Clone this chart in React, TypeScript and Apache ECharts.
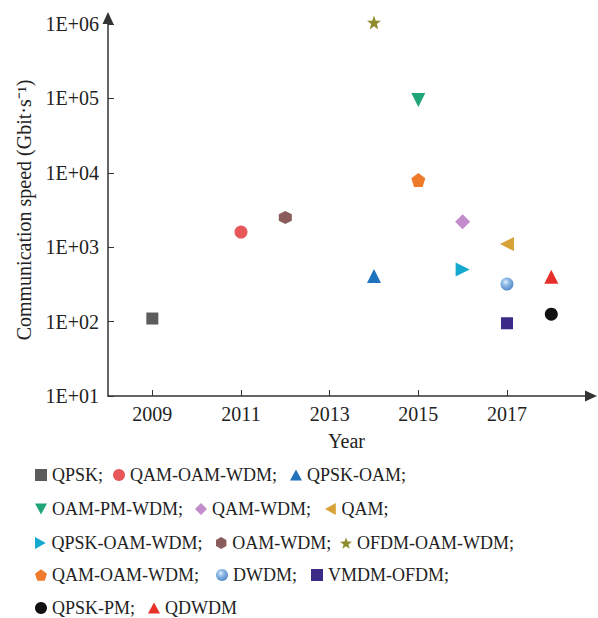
import React, { useEffect, useRef } from "react";
import * as echarts from "echarts";

const names = [
  "QPSK",
  "QAM-OAM-WDM",
  "QPSK-OAM",
  "OAM-PM-WDM",
  "QAM-WDM",
  "QAM",
  "QPSK-OAM-WDM",
  "OAM-WDM",
  "OFDM-OAM-WDM",
  "QAM-OAM-WDM ",
  "DWDM",
  "VMDM-OFDM",
  "QPSK-PM",
  "QDWDM",
];
const years = [2009, 2011, 2014, 2015, 2016, 2017, 2016, 2012, 2014, 2015, 2017, 2017, 2018, 2018];
const speeds = [110, 1600, 410, 95000, 2200, 1100, 500, 2500, 1050000, 8000, 320, 95, 126, 400];
const xTicks = [2009, 2011, 2013, 2015, 2017];
const yLabels = ["1E+01", "1E+02", "1E+03", "1E+04", "1E+05", "1E+06"];

const HEX = "path://M0,-10L8.66,-5L8.66,5L0,10L-8.66,5L-8.66,-5Z";
const STAR =
  "path://M0,-10L2.35,-3.24L9.51,-3.09L3.8,1.24L5.88,8.09L0,4L-5.88,8.09L-3.8,1.24L-9.51,-3.09L-2.35,-3.24Z";
const PENT = "path://M0,-10L9.51,-3.09L5.88,8.09L-5.88,8.09L-9.51,-3.09Z";
const TRI_UP = "path://M0,-10L10,8L-10,8Z";
const TRI_DOWN = "path://M-10,-8L10,-8L0,10Z";
const TRI_LEFT = "path://M-10,0L8,-10L8,10Z";
const TRI_RIGHT = "path://M10,0L-8,-10L-8,10Z";

const sphere = {
  type: "radial",
  x: 0.4,
  y: 0.35,
  r: 0.7,
  colorStops: [
    { offset: 0, color: "#e8f2fc" },
    { offset: 0.35, color: "#8fbbe6" },
    { offset: 1, color: "#4f86c6" },
  ],
};

const styles: any[] = [
  { symbol: "rect", size: 12, color: "#5c5c5c" },
  { symbol: "circle", size: 13, color: "#e8585a" },
  { symbol: TRI_UP, size: 14, color: "#1f72bd" },
  { symbol: TRI_DOWN, size: 14, color: "#1fa576" },
  { symbol: "diamond", size: 15, color: "#c38ccc" },
  { symbol: TRI_LEFT, size: 14, color: "#d7a236" },
  { symbol: TRI_RIGHT, size: 14, color: "#14a9cf" },
  { symbol: HEX, size: 13, color: "#8a5c5c" },
  { symbol: STAR, size: 14, color: "#8d8b2c" },
  { symbol: PENT, size: 14, color: "#ef7a2a" },
  { symbol: "circle", size: 13, color: sphere },
  { symbol: "rect", size: 12, color: "#3b2a86" },
  { symbol: "circle", size: 13, color: "#111111" },
  { symbol: TRI_UP, size: 14, color: "#e8302a" },
];

// legend item placement: [left, top]
const legendPos = [
  [35, 466], [113, 466], [290, 466],
  [35, 500], [195, 500], [325, 500],
  [35, 534], [216, 534], [340, 534],
  [35, 566], [216, 566], [311, 566],
  [35, 599], [148, 599],
];

const FONT = "'Liberation Serif', 'Times New Roman', serif";

export default function App() {
  const ref = useRef<HTMLDivElement>(null);
  useEffect(() => {
    if (!ref.current) return;
    const chart = echarts.init(ref.current, undefined, { renderer: "svg" });
    const series = names.map((n, i) => ({
      name: n,
      type: "scatter",
      clip: false,
      symbol: styles[i].symbol,
      symbolSize: styles[i].size,
      itemStyle: { color: styles[i].color, opacity: 1 },
      data: [[years[i], speeds[i]]],
    }));
    const legends = names.map((n, i) => ({
      data: [{ name: n, icon: styles[i].symbol }],
      left: legendPos[i][0],
      top: legendPos[i][1],
      padding: 0,
      itemWidth: 12,
      itemHeight: 12,
      itemGap: 0,
      selectedMode: false,
      formatter: () => n.trim() + (i === names.length - 1 ? "" : ";"),
      textStyle: { fontFamily: FONT, fontSize: 18, color: "#222", padding: [0, 0, 0, 0] },
    }));
    chart.setOption({
      animation: false,
      backgroundColor: "#ffffff",
      textStyle: { fontFamily: FONT },
      grid: { left: 108, right: 13, top: 24, bottom: 222, containLabel: false },
      legend: legends,
      xAxis: {
        type: "value",
        min: 2008,
        max: 2018.76,
        name: "Year",
        nameLocation: "middle",
        nameGap: 35,
        nameTextStyle: { fontFamily: FONT, fontSize: 20, color: "#222" },
        splitLine: { show: false },
        axisLine: {
          lineStyle: { color: "#333", width: 1.5 },
          symbol: ["none", "triangle"],
          symbolSize: [11, 12],
          symbolOffset: [0, 6],
        },
        axisTick: { inside: true, length: 6, customValues: xTicks, lineStyle: { color: "#333" } },
        axisLabel: {
          customValues: xTicks,
          margin: 8,
          fontFamily: FONT,
          fontSize: 20,
          color: "#222",
          formatter: (v: number) => String(Math.round(v)),
        },
      },
      yAxis: {
        type: "log",
        logBase: 10,
        min: 10,
        max: 1000000,
        name: "Communication speed (Gbit·s⁻¹)",
        nameLocation: "middle",
        nameRotate: 90,
        nameGap: 74,
        nameTextStyle: { fontFamily: FONT, fontSize: 20, color: "#222" },
        splitLine: { show: false },
        axisLine: {
          lineStyle: { color: "#333", width: 1.5 },
          symbol: ["none", "triangle"],
          symbolSize: [11, 12],
          symbolOffset: [0, 6],
        },
        axisTick: { inside: true, length: 6, lineStyle: { color: "#333" } },
        axisLabel: {
          margin: 9,
          fontFamily: FONT,
          fontSize: 20,
          color: "#222",
          formatter: (v: number) => yLabels[Math.round(Math.log10(v)) - 1] ?? "",
        },
      },
      series,
    });
    return () => chart.dispose();
  }, []);
  return (
    <div
      ref={ref}
      style={{ position: "absolute", left: 0, top: 0, width: 598, height: 618, background: "#fff" }}
    />
  );
}
